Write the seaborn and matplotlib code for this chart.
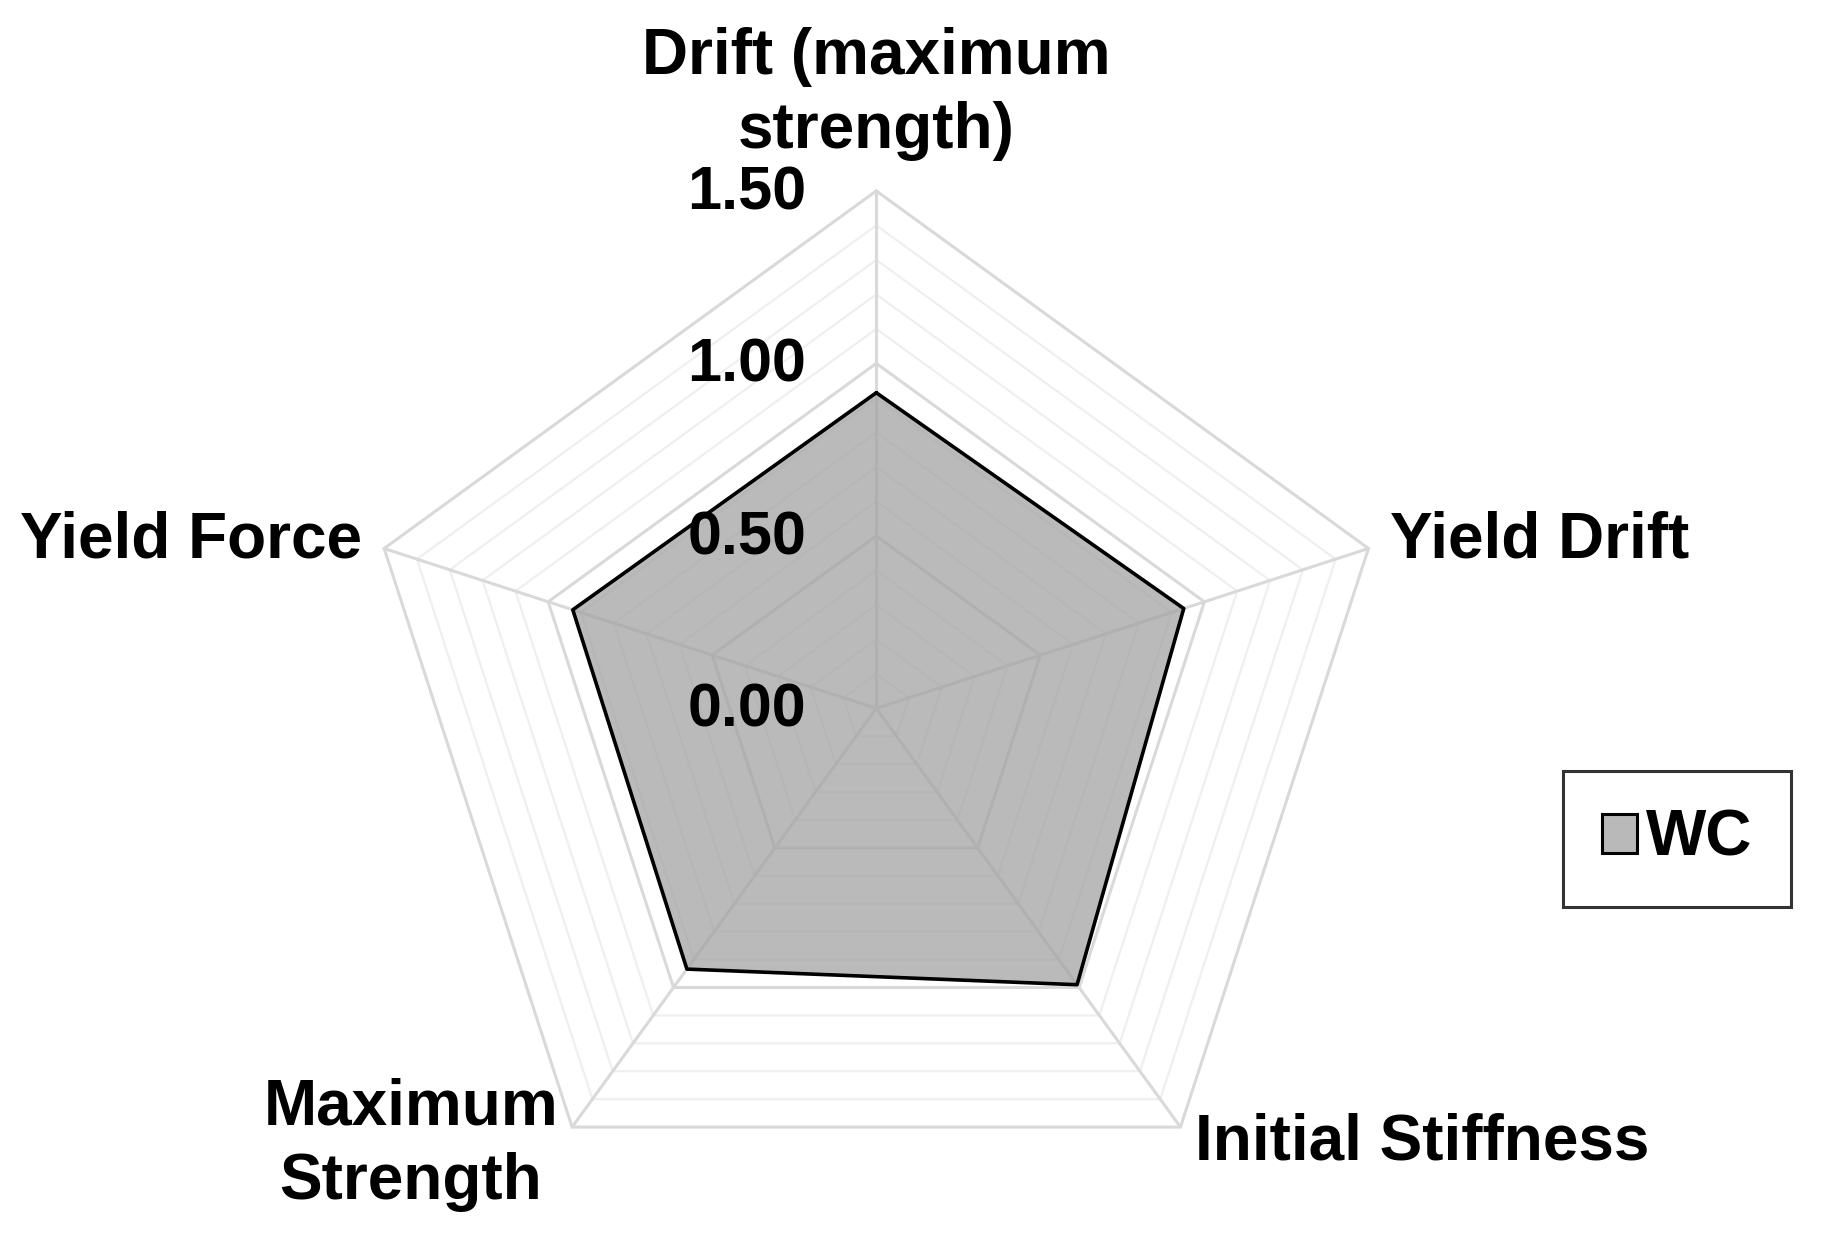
import numpy as np
import matplotlib
matplotlib.use("Agg")
import matplotlib.pyplot as plt
from matplotlib.patches import Patch
import seaborn as sns
import pandas as pd

categories = ["Drift (maximum\nstrength)", "Yield Drift", "Initial Stiffness",
              "Maximum\nStrength", "Yield Force"]
wc_values = [0.915, 0.937, 0.99, 0.934, 0.925]
tick_values = [0.0, 0.5, 1.0, 1.5]
tick_labels = ["0.00", "0.50", "1.00", "1.50"]
minor_step = 0.1
series_name = "WC"

sns.set_theme(style="white")
plt.rcParams["font.family"] = ["Liberation Sans", "DejaVu Sans"]
plt.rcParams["font.weight"] = "bold"
plt.rcParams["text.color"] = "black"

W, H, DPI = 1837, 1241, 100
fig = plt.figure(figsize=(W / DPI, H / DPI), dpi=DPI)
ax = fig.add_axes([0, 0, 1, 1])

cx, cy, Rpx = 876.3, 708.4, 517.5
rmax = 1.5
s = rmax / Rpx

n = len(categories)
ang = np.arange(n) * 2 * np.pi / n


def poly(r):
    x = r * np.sin(ang)
    y = r * np.cos(ang)
    return np.append(x, x[0]), np.append(y, y[0])

# minor and major grid
levels = np.round(np.arange(minor_step, rmax + 1e-9, minor_step), 2)
for lv in levels:
    major = any(abs(lv - t) < 1e-6 for t in tick_values)
    x, y = poly(lv)
    ax.plot(x, y, color="#d9d9d9" if major else "#efefef",
            lw=2.2 if major else 1.6, zorder=1, solid_joinstyle="miter")
# spokes
for a in ang:
    ax.plot([0, rmax * np.sin(a)], [0, rmax * np.cos(a)], color="#d9d9d9",
            lw=2.2, zorder=1)

# data
vals = np.array(wc_values)
dx = np.append(vals * np.sin(ang), vals[0] * np.sin(ang[0]))
dy = np.append(vals * np.cos(ang), vals[0] * np.cos(ang[0]))
df = pd.DataFrame({"x": dx, "y": dy})
ax.fill(df["x"], df["y"], color="#a3a3a3", alpha=0.75, lw=0, zorder=2)
sns.lineplot(data=df, x="x", y="y", sort=False, color="black", lw=2.6,
             ax=ax, zorder=3, estimator=None)
ax.set_axis_off()
ax.set_xlim(-cx * s, (W - cx) * s)
ax.set_ylim(-(H - cy) * s, cy * s)

# tick labels
fs = 46
for tv, tl in zip(tick_values, tick_labels):
    ax.text(-70 * s, tv - 3 * s, tl, ha="right", va="center", fontsize=44,
            fontweight="bold", color="black", zorder=4)

# category labels
lab_pos = [
    (0.0, (708.4 - 94) * s, "center", "center"),
    ((1390 - cx) * s, (cy - 541) * s, "left", "center"),
    ((1195 - cx) * s, (cy - 1143) * s, "left", "center"),
    ((411 - cx) * s, (cy - 1145) * s, "center", "center"),
    ((362 - cx) * s, (cy - 541) * s, "right", "center"),
]
for cat, (lx, ly, ha, va) in zip(categories, lab_pos):
    ax.text(lx, ly, cat, ha=ha, va=va, fontsize=fs, fontweight="bold",
            multialignment="center", linespacing=1.3, color="black")

handle = Patch(facecolor="#bab9ba", edgecolor="black", lw=2.2)
leg = fig.legend([handle], [series_name], loc="center",
                 bbox_to_anchor=(0.913, 0.324), frameon=True, fancybox=False,
                 prop={"weight": "bold", "size": fs, "family": "Liberation Sans"},
                 labelcolor="black",
                 handlelength=0.55, handleheight=0.55, handletextpad=0.15,
                 borderpad=0.6, borderaxespad=0)
leg.get_frame().set_edgecolor("black")
leg.get_frame().set_linewidth(2.2)

fig.savefig("out.png", dpi=DPI, facecolor="white")
